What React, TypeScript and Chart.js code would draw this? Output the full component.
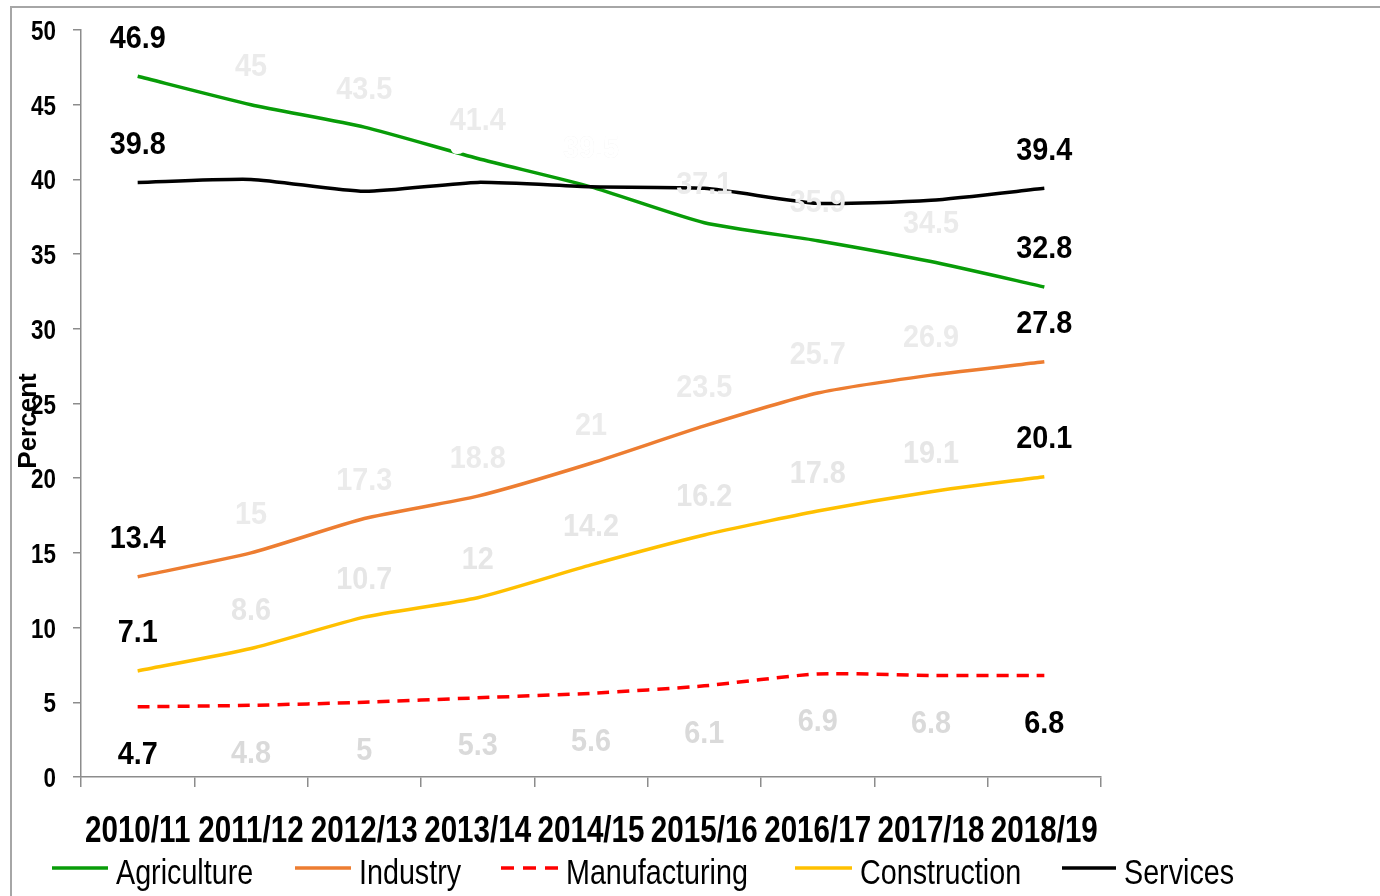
import React, { useEffect, useRef } from "react";
import { Chart, registerables } from "chart.js";

Chart.register(...registerables);

const categories = ["2010/11", "2011/12", "2012/13", "2013/14", "2014/15", "2015/16", "2016/17", "2017/18", "2018/19"];
const agriculture = [46.9, 45, 43.5, 41.4, 39.5, 37.1, 35.9, 34.5, 32.8];
const industry = [13.4, 15, 17.3, 18.8, 21, 23.5, 25.7, 26.9, 27.8];
const manufacturing = [4.7, 4.8, 5, 5.3, 5.6, 6.1, 6.9, 6.8, 6.8];
const construction = [7.1, 8.6, 10.7, 12, 14.2, 16.2, 17.8, 19.1, 20.1];
const services = [39.8, 40.0, 39.2, 39.8, 39.5, 39.4, 38.4, 38.6, 39.4];

const seriesNames = ["Agriculture", "Industry", "Manufacturing", "Construction", "Services"];
const seriesColors = ["#089c08", "#ED7D31", "#FF0000", "#FFC000", "#000000"];
const yMin = 0;
const yMax = 50;
const yStep = 5;
const yTickValues = [0, 5, 10, 15, 20, 25, 30, 35, 40, 45, 50];
const axisTitle = "Percent";

const FONT = '"Liberation Sans", Arial, sans-serif';
const CAP = 0.716;

// label offsets (px) relative to point, per series
const labelOffsets = [-40, -40, 46, -40, -40];
const midLabelColors = ["#ebebeb", "#ebebeb", "#dadada", "#e6e6e6", "#ffffff"];
const legendStarts = [52, 295, 501, 795, 1062];
const legendLineLens = [56, 56, 57, 57, 54];

function narrowText(
  ctx: CanvasRenderingContext2D,
  text: string,
  x: number,
  baseline: number,
  size: number,
  bold: boolean,
  sx: number,
  align: CanvasTextAlign,
  color: string
) {
  ctx.save();
  ctx.font = `${bold ? "bold " : ""}${size}px ${FONT}`;
  ctx.textAlign = align;
  ctx.textBaseline = "alphabetic";
  ctx.fillStyle = color;
  ctx.translate(x, baseline);
  ctx.scale(sx, 1);
  ctx.fillText(text, 0, 0);
  ctx.restore();
}

const decorPlugin = {
  id: "decor",
  beforeDraw(chart: any) {
    const ctx = chart.ctx;
    ctx.save();
    ctx.fillStyle = "#ffffff";
    ctx.fillRect(0, 0, chart.width, chart.height);
    ctx.strokeStyle = "#a6a6a6";
    ctx.lineWidth = 2;
    ctx.beginPath();
    ctx.moveTo(11, chart.height + 5);
    ctx.lineTo(11, 7);
    ctx.lineTo(chart.width + 5, 7);
    ctx.stroke();
    ctx.restore();
  },
  afterDatasetsDraw(chart: any) {
    const ctx = chart.ctx;
    const size = 32;
    chart.data.datasets.forEach((ds: any, di: number) => {
      const meta = chart.getDatasetMeta(di);
      meta.data.forEach((pt: any, i: number) => {
        const v = ds.data[i];
        const isEnd = i === 0 || i === ds.data.length - 1;
        const color = isEnd ? "#000000" : midLabelColors[di];
        narrowText(ctx, String(v), pt.x, pt.y + labelOffsets[di] + (size * CAP) / 2, size, true, 0.9, "center", color);
      });
    });
  },
  afterDraw(chart: any) {
    const ctx = chart.ctx;
    const xs = chart.scales.x;
    const ys = chart.scales.y;
    // x tick labels
    categories.forEach((c, i) => {
      narrowText(ctx, c, xs.getPixelForValue(i), 842, 37, true, 0.8, "center", "#000000");
    });
    // y tick labels
    yTickValues.forEach((v) => {
      narrowText(ctx, String(v), ys.left + ys.width - 25, ys.getPixelForValue(v) + (28 * CAP) / 2, 28, true, 0.8, "right", "#000000");
    });
    // legend
    seriesNames.forEach((name, i) => {
      const x = legendStarts[i];
      const len = legendLineLens[i];
      ctx.save();
      ctx.strokeStyle = seriesColors[i];
      ctx.lineWidth = 3.5;
      ctx.setLineDash(i === 2 ? [13, 9] : []);
      ctx.beginPath();
      ctx.moveTo(x, 868);
      ctx.lineTo(x + len, 868);
      ctx.stroke();
      ctx.restore();
      narrowText(ctx, name, x + len + 8, 884, 35, false, 0.82, "left", "#000000");
    });
    // axis title
    ctx.save();
    ctx.translate(29, 421);
    ctx.rotate(-Math.PI / 2);
    ctx.font = `bold 26px ${FONT}`;
    ctx.textAlign = "center";
    ctx.textBaseline = "middle";
    ctx.fillStyle = "#000000";
    ctx.fillText(axisTitle, 0, 0);
    ctx.restore();
  },
};

export default function App() {
  const ref = useRef<HTMLCanvasElement | null>(null);
  useEffect(() => {
    if (!ref.current) return;
    const seriesData = [agriculture, industry, manufacturing, construction, services];
    const chart = new Chart(ref.current, {
      type: "line",
      data: {
        labels: categories,
        datasets: seriesNames.map((name, i) => ({
          label: name,
          data: seriesData[i],
          borderColor: seriesColors[i],
          backgroundColor: seriesColors[i],
          borderWidth: 3.5,
          borderDash: i === 2 ? [12, 8] : [],
          pointRadius: 0,
          tension: 0.2,
          fill: false,
          order: i === 4 ? 0 : i + 1,
        })),
      },
      options: {
        responsive: false,
        animation: false,
        layout: { padding: { left: 0, right: 279, top: 30, bottom: 0 } },
        plugins: {
          legend: { display: false },
          tooltip: { enabled: false },
        },
        scales: {
          x: {
            offset: true,
            grid: {
              offset: true,
              drawOnChartArea: false,
              drawTicks: true,
              tickLength: 10,
              color: "#8c8c8c",
              lineWidth: 1.5,
            },
            border: { display: true, color: "#8c8c8c", width: 1.5 },
            ticks: {
              color: "rgba(0,0,0,0)",
              font: { family: FONT, size: 20, weight: "bold" },
              padding: 22,
              maxRotation: 0,
              minRotation: 0,
              autoSkip: false,
            },
            afterFit: (scale: any) => {
              scale.height = 119;
            },
          },
          y: {
            min: yMin,
            max: yMax,
            grid: {
              drawOnChartArea: false,
              drawTicks: true,
              tickLength: 8,
              color: "#8c8c8c",
              lineWidth: 1.5,
            },
            border: { display: true, color: "#8c8c8c", width: 1.5 },
            ticks: {
              stepSize: yStep,
              color: "rgba(0,0,0,0)",
              font: { family: FONT, size: 20, weight: "bold" },
              padding: 17,
            },
            afterFit: (scale: any) => {
              scale.width = 81;
            },
          },
        },
      },
      plugins: [decorPlugin],
    });
    return () => chart.destroy();
  }, []);
  return (
    <div style={{ position: "fixed", left: 0, top: 0, width: 1380, height: 896, background: "#fff" }}>
      <canvas ref={ref} width={1380} height={896} style={{ width: 1380, height: 896, display: "block" }} />
    </div>
  );
}
